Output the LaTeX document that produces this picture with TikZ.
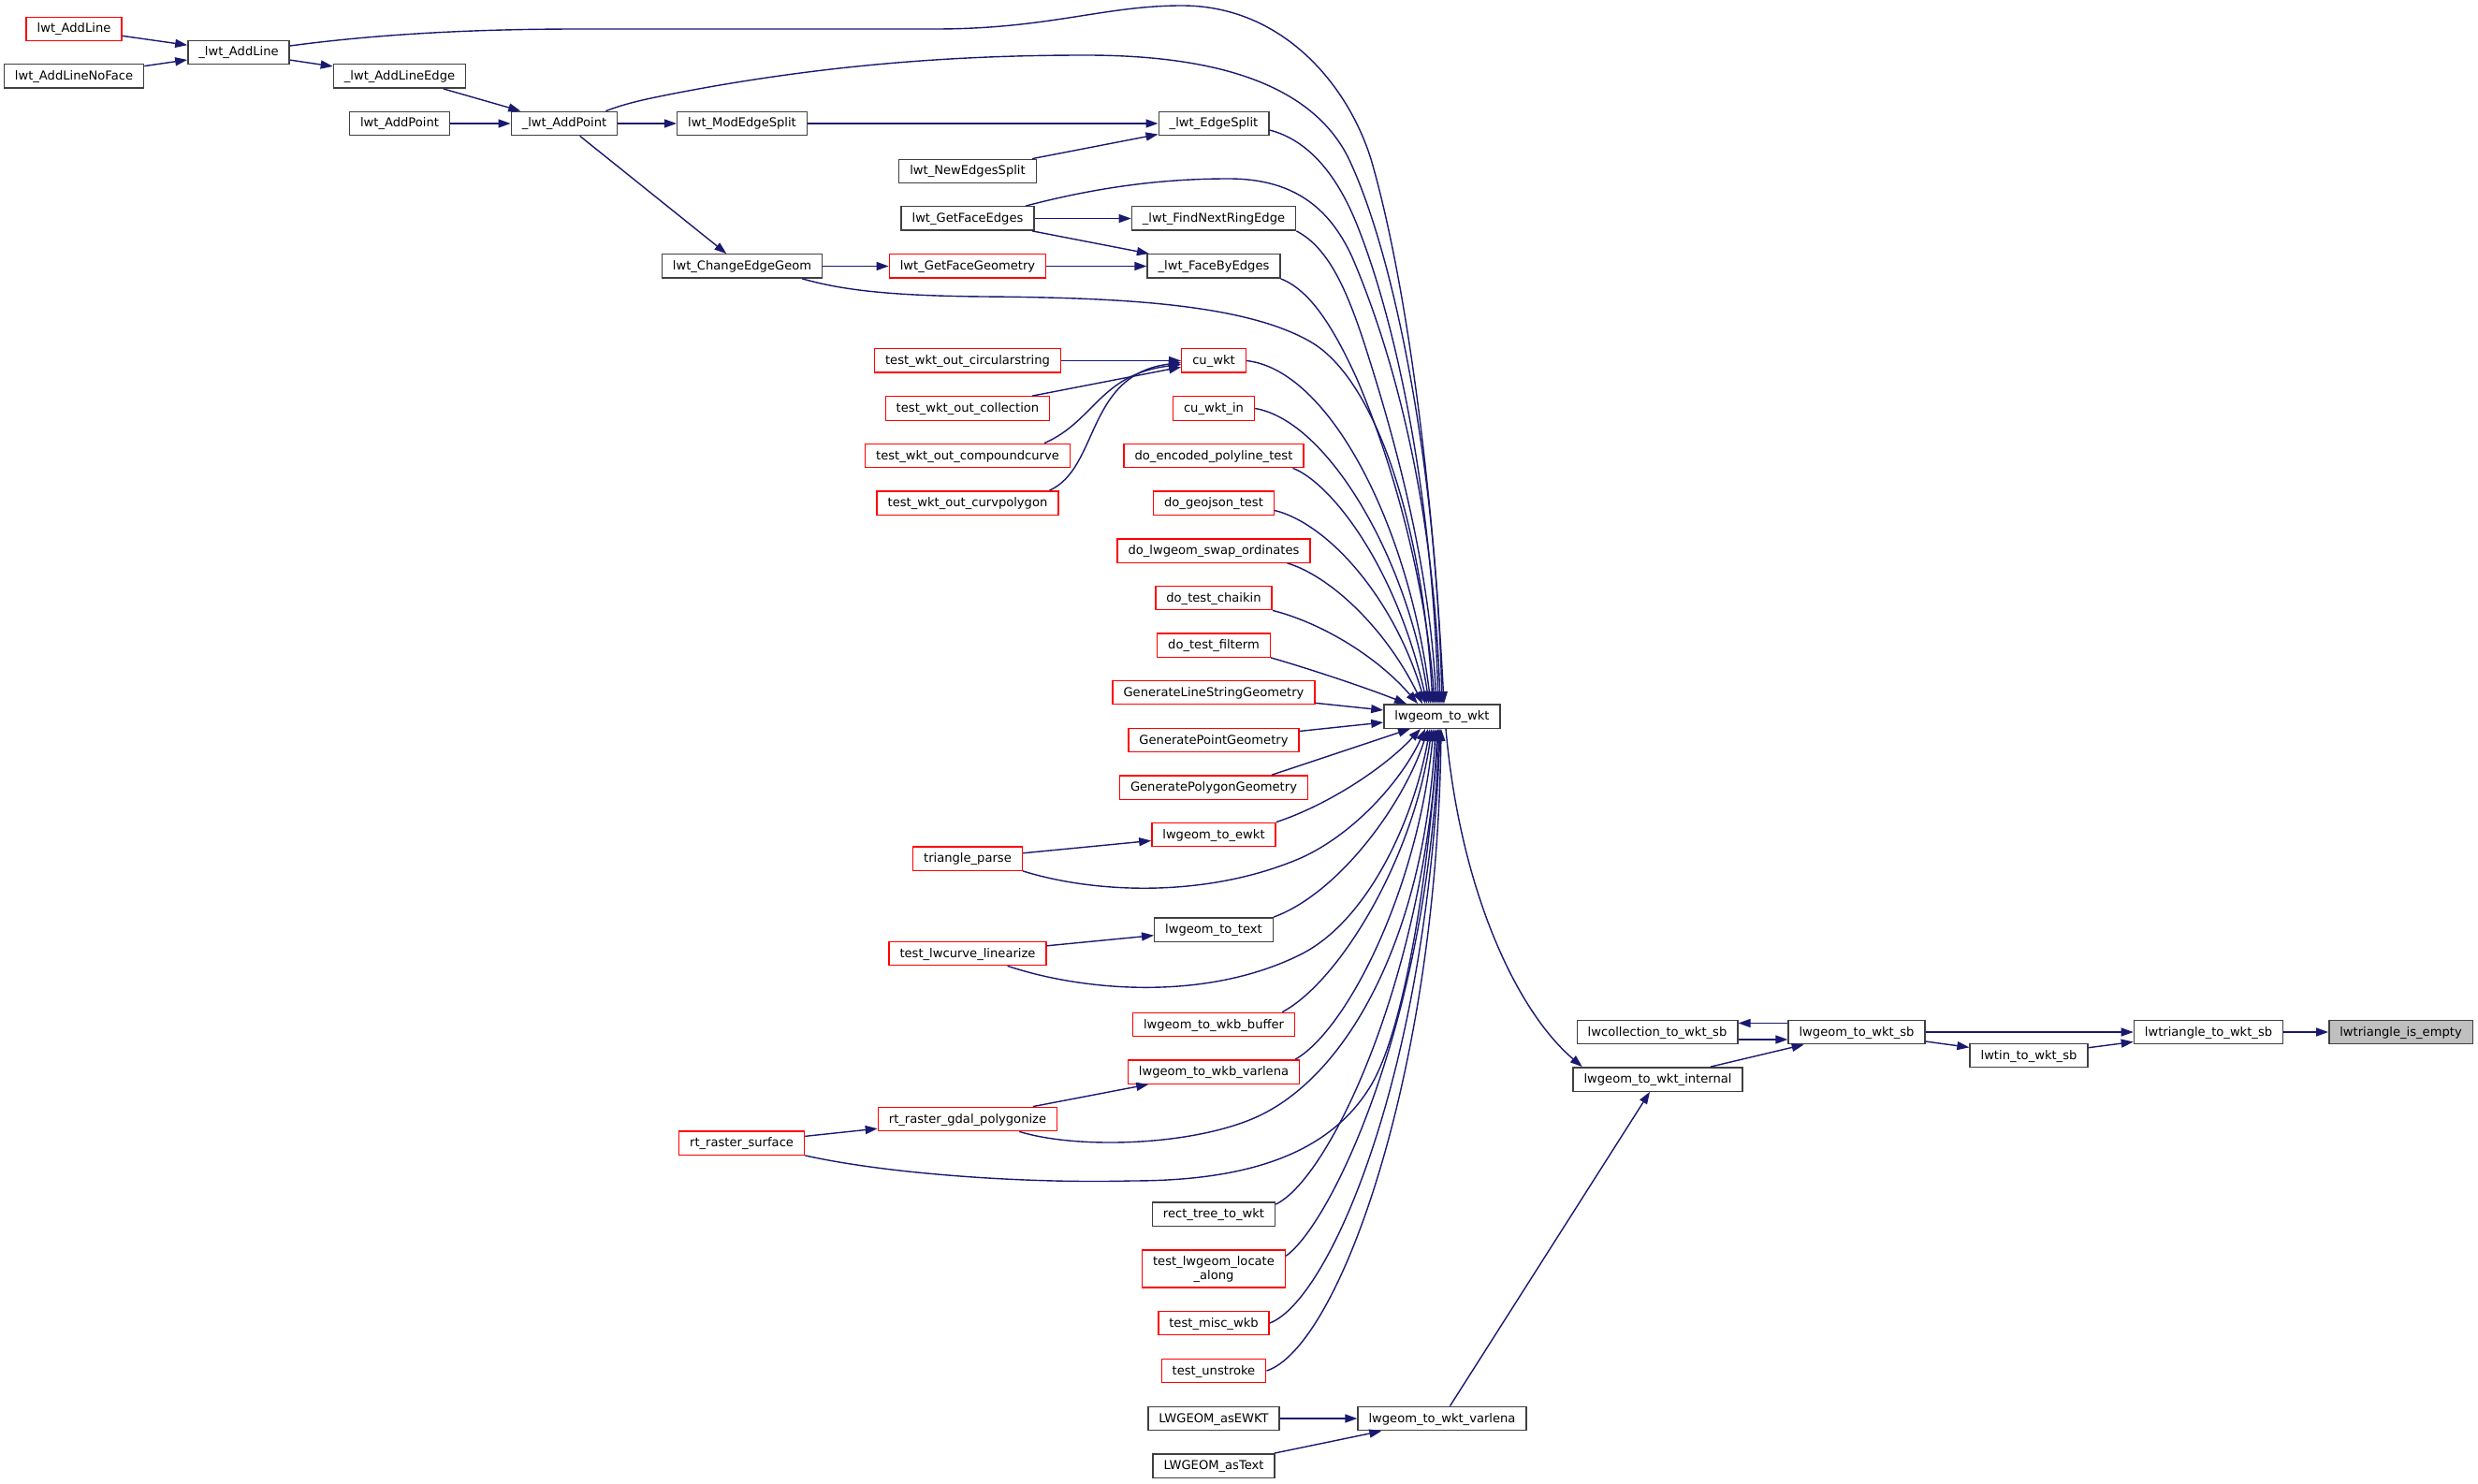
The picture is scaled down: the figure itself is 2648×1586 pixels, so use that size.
\documentclass[tikz,border=0pt]{standalone}
\usepackage{fontspec}
\setmainfont{DejaVu Sans}
\usetikzlibrary{arrows.meta}
\definecolor{edgec}{RGB}{25,25,112}
\definecolor{redb}{RGB}{255,0,0}
\definecolor{blkb}{RGB}{64,64,64}
\definecolor{grayf}{RGB}{191,191,191}
\begin{document}
\begin{tikzpicture}[x=1pt,y=-1pt,
  bnode/.style={draw=blkb, line width=1.4pt, fill=white, font=\fontsize{13.1pt}{15pt}\selectfont,
    minimum height=25.4pt, inner xsep=11.5pt, inner ysep=5.5pt, text height=11pt, text depth=3pt},
  rnode/.style={bnode, draw=redb},
  gnode/.style={bnode, fill=grayf},
  edg/.style={draw=edgec, line width=1.4pt, -{Triangle[length=13pt,width=9pt]}}]
\useasboundingbox (0,0) rectangle (2648,1586);

% nodes
\node[rnode] (n_lwtaddline) at (79,31) {lwt\_AddLine};
\node[bnode] (n_uaddline) at (255,56) {\_lwt\_AddLine};
\node[bnode] (n_noface) at (79,81.5) {lwt\_AddLineNoFace};
\node[bnode] (n_addlineedge) at (427,81.5) {\_lwt\_AddLineEdge};
\node[bnode] (n_lwtaddpoint) at (427,132) {lwt\_AddPoint};
\node[bnode] (n_uaddpoint) at (603,132) {\_lwt\_AddPoint};
\node[bnode] (n_modedge) at (793,132) {lwt\_ModEdgeSplit};
\node[bnode] (n_edgesplit) at (1297,132) {\_lwt\_EdgeSplit};
\node[bnode] (n_newedges) at (1034,183) {lwt\_NewEdgesSplit};
\node[bnode] (n_getfaceedges) at (1034,233.5) {lwt\_GetFaceEdges};
\node[bnode] (n_findnext) at (1297,233.5) {\_lwt\_FindNextRingEdge};
\node[bnode] (n_changeedge) at (793,284.5) {lwt\_ChangeEdgeGeom};
\node[rnode] (n_getfacegeom) at (1034,284.5) {lwt\_GetFaceGeometry};
\node[bnode] (n_facebyedges) at (1297,284.5) {\_lwt\_FaceByEdges};
\node[rnode] (n_circ) at (1034,385.5) {test\_wkt\_out\_circularstring};
\node[rnode] (n_cuwkt) at (1297,385.5) {cu\_wkt};
\node[rnode] (n_coll) at (1034,436.5) {test\_wkt\_out\_collection};
\node[rnode] (n_cuwktin) at (1297,436.5) {cu\_wkt\_in};
\node[rnode] (n_compound) at (1034,487) {test\_wkt\_out\_compoundcurve};
\node[rnode] (n_encoded) at (1297,487) {do\_encoded\_polyline\_test};
\node[rnode] (n_curvpoly) at (1034,537.5) {test\_wkt\_out\_curvpolygon};
\node[rnode] (n_geojson) at (1297,537.5) {do\_geojson\_test};
\node[rnode] (n_swap) at (1297,588.5) {do\_lwgeom\_swap\_ordinates};
\node[rnode] (n_chaikin) at (1297,639) {do\_test\_chaikin};
\node[rnode] (n_filterm) at (1297,689.5) {do\_test\_filterm};
\node[rnode] (n_gls) at (1297,740) {GenerateLineStringGeometry};
\node[bnode] (n_wkt) at (1541,765.5) {lwgeom\_to\_wkt};
\node[rnode] (n_gpt) at (1297,791) {GeneratePointGeometry};
\node[rnode] (n_gpoly) at (1297,841.5) {GeneratePolygonGeometry};
\node[rnode] (n_ewkt) at (1297,892) {lwgeom\_to\_ewkt};
\node[rnode] (n_triparse) at (1034,917.5) {triangle\_parse};
\node[bnode] (n_text) at (1297,993.5) {lwgeom\_to\_text};
\node[rnode] (n_curvelin) at (1034,1019) {test\_lwcurve\_linearize};
\node[rnode] (n_wkbbuf) at (1297,1095) {lwgeom\_to\_wkb\_buffer};
\node[rnode] (n_wkbvar) at (1297,1145.5) {lwgeom\_to\_wkb\_varlena};
\node[rnode] (n_gdal) at (1034,1196) {rt\_raster\_gdal\_polygonize};
\node[rnode] (n_surface) at (792.6,1221.5) {rt\_raster\_surface};
\node[bnode] (n_recttree) at (1297,1297.5) {rect\_tree\_to\_wkt};
\node[rnode, align=center, text height=26pt, text depth=3pt] (n_locate) at (1297,1356) {test\_lwgeom\_locate\\\_along};
\node[rnode] (n_miscwkb) at (1297,1414) {test\_misc\_wkb};
\node[rnode] (n_unstroke) at (1297,1465) {test\_unstroke};
\node[bnode] (n_asewkt) at (1297,1516) {LWGEOM\_asEWKT};
\node[bnode] (n_wktvarlena) at (1541,1516) {lwgeom\_to\_wkt\_varlena};
\node[bnode] (n_astext) at (1297,1566.5) {LWGEOM\_asText};
\node[bnode] (n_coll_sb) at (1771,1103) {lwcollection\_to\_wkt\_sb};
\node[bnode] (n_wkt_sb) at (1984,1103) {lwgeom\_to\_wkt\_sb};
\node[bnode] (n_internal) at (1771.5,1153.5) {lwgeom\_to\_wkt\_internal};
\node[bnode] (n_lwtin) at (2168,1128) {lwtin\_to\_wkt\_sb};
\node[bnode] (n_tri_sb) at (2360,1103) {lwtriangle\_to\_wkt\_sb};
\node[gnode] (n_empty) at (2565.5,1103) {lwtriangle\_is\_empty};

% straight edges
\draw[edg] (n_lwtaddline) -- (n_uaddline);
\draw[edg] (n_noface) -- (n_uaddline);
\draw[edg] (n_uaddline) -- (n_addlineedge);
\draw[edg] (n_addlineedge) -- (n_uaddpoint);
\draw[edg] (n_lwtaddpoint) -- (n_uaddpoint);
\draw[edg] (n_uaddpoint) -- (n_modedge);
\draw[edg] (n_uaddpoint) -- (n_changeedge);
\draw[edg] (n_modedge) -- (n_edgesplit);
\draw[edg] (n_newedges) -- (n_edgesplit);
\draw[edg] (n_getfaceedges) -- (n_findnext);
\draw[edg] (n_getfaceedges) -- (n_facebyedges);
\draw[edg] (n_changeedge) -- (n_getfacegeom);
\draw[edg] (n_getfacegeom) -- (n_facebyedges);
\draw[edg] (n_circ) -- (n_cuwkt);
\draw[edg] (n_coll) -- (n_cuwkt);
\draw[edg] ([xshift=-28pt]n_compound.north east) .. controls (1170,450) and (1175,400) .. ([yshift=-4pt]n_cuwkt.west);
\draw[edg] ([xshift=-10pt]n_curvpoly.north east) .. controls (1175,500) and (1160,400) .. ([yshift=-2pt]n_cuwkt.west);
\draw[edg] (n_triparse) -- (n_ewkt);
\draw[edg] (n_curvelin) -- (n_text);
\draw[edg] (n_gdal) -- (n_wkbvar);
\draw[edg] (n_surface) -- (n_gdal);
\draw[edg] (n_asewkt) -- (n_wktvarlena);
\draw[edg] (n_astext) -- (n_wktvarlena);
\draw[edg] (n_wktvarlena) -- (n_internal);
\draw[edg] (n_internal) -- (n_wkt_sb);
\draw[edg] ([yshift=9.5pt]n_wkt_sb.west) -- ([yshift=9.5pt]n_coll_sb.east);
\draw[edg] ([yshift=-8pt]n_coll_sb.east) -- ([yshift=-8pt]n_wkt_sb.west);
\draw[edg] (n_wkt_sb) -- (n_tri_sb);
\draw[edg] (n_wkt_sb) -- (n_lwtin);
\draw[edg] (n_lwtin) -- (n_tri_sb);
\draw[edg] (n_tri_sb) -- (n_empty);
\draw[edg] (n_gls) -- (n_wkt);
\draw[edg] (n_gpt) -- (n_wkt);
\draw[edg] ([xshift=-39pt]n_gpoly.north east) -- ([xshift=-34pt]n_wkt.south);

% curves into lwgeom_to_wkt (top)
\draw[edg] ([yshift=7pt]n_uaddline.east) .. controls (400,37) and (500,31) .. (620,31) -- (1000,31) .. controls (1120,31) and (1180,6) .. (1263,6) .. controls (1370,6) and (1440,90) .. (1465,170) .. controls (1500,290) and (1530,500) .. ([xshift=2pt]n_wkt.north);
\draw[edg] ([xshift=-13pt]n_uaddpoint.north east) .. controls (670,110) and (690,106) .. (720,100) .. controls (900,65) and (1050,59) .. (1160,59) .. controls (1300,59) and (1400,90) .. (1440,167) .. controls (1490,270) and (1535,500) .. (n_wkt.north);
\draw[edg] ([xshift=-9.5pt]n_getfaceedges.north east) .. controls (1180,198) and (1250,191) .. (1313,191) .. controls (1380,191) and (1420,220) .. (1445,275) .. controls (1490,380) and (1532,540) .. ([xshift=-2pt]n_wkt.north);
\draw[edg] ([yshift=-7pt]n_edgesplit.east) .. controls (1400,150) and (1430,190) .. (1450,240) .. controls (1490,340) and (1530,520) .. ([xshift=-4pt]n_wkt.north);
\draw[edg] (n_findnext.south east) .. controls (1420,265) and (1440,310) .. (1462,380) .. controls (1500,500) and (1528,620) .. ([xshift=-6pt]n_wkt.north);
\draw[edg] (n_facebyedges.south east) .. controls (1400,310) and (1425,350) .. (1450,405) .. controls (1495,510) and (1525,640) .. ([xshift=-8pt]n_wkt.north);
\draw[edg] ([xshift=-22pt]n_changeedge.south east) .. controls (900,310) and (950,316) .. (1050,317) .. controls (1200,318) and (1330,325) .. (1400,365) .. controls (1470,405) and (1520,560) .. ([xshift=-10pt]n_wkt.north);
\draw[edg] (n_cuwkt.east) .. controls (1420,395) and (1505,560) .. ([xshift=-12pt]n_wkt.north);
\draw[edg] (n_cuwktin.east) .. controls (1420,450) and (1505,600) .. ([xshift=-14pt]n_wkt.north);
\draw[edg] ([xshift=-12pt]n_encoded.south east) .. controls (1420,515) and (1490,600) .. ([xshift=-16pt]n_wkt.north);
\draw[edg] ([yshift=-8pt]n_geojson.east) .. controls (1420,560) and (1490,640) .. ([xshift=-18pt]n_wkt.north);
\draw[edg] ([xshift=-25pt]n_swap.south east) .. controls (1420,615) and (1480,670) .. ([xshift=-21pt]n_wkt.north);
\draw[edg] (n_chaikin.south east) .. controls (1410,665) and (1470,700) .. ([xshift=-26pt]n_wkt.north);
\draw[edg] (n_filterm.south east) .. controls (1400,715) and (1460,735) .. ([xshift=-38pt]n_wkt.north);

% curves into lwgeom_to_wkt (bottom)
\draw[edg] (n_ewkt.north east) .. controls (1420,860) and (1480,820) .. ([xshift=-23pt]n_wkt.south);
\draw[edg] (n_triparse.south east) .. controls (1170,955) and (1290,960) .. (1390,917) .. controls (1450,890) and (1500,830) .. ([xshift=-18pt]n_wkt.south);
\draw[edg] (n_text.north east) .. controls (1430,955) and (1500,860) .. ([xshift=-15pt]n_wkt.south);
\draw[edg] ([xshift=-42pt]n_curvelin.south east) .. controls (1160,1060) and (1290,1070) .. (1390,1020) .. controls (1460,985) and (1510,880) .. ([xshift=-13pt]n_wkt.south);
\draw[edg] ([xshift=-14pt]n_wkbbuf.north east) .. controls (1430,1050) and (1510,920) .. ([xshift=-11pt]n_wkt.south);
\draw[edg] ([xshift=-5pt]n_wkbvar.north east) .. controls (1440,1100) and (1515,950) .. ([xshift=-9pt]n_wkt.south);
\draw[edg] ([xshift=-41pt]n_gdal.south east) .. controls (1150,1228) and (1270,1225) .. (1340,1195) .. controls (1440,1152) and (1522,1000) .. ([xshift=-7pt]n_wkt.south);
\draw[edg] (n_surface.south east) .. controls (950,1255) and (1100,1265) .. (1209,1262) .. controls (1330,1262) and (1420,1235) .. (1465,1160) .. controls (1505,1093) and (1530,900) .. ([xshift=-5pt]n_wkt.south);
\draw[edg] ([yshift=-3pt]n_recttree.north east) .. controls (1420,1260) and (1520,1050) .. ([xshift=-4pt]n_wkt.south);
\draw[edg] ([yshift=-7pt]n_locate.north east) .. controls (1420,1310) and (1525,1100) .. ([xshift=-3pt]n_wkt.south);
\draw[edg] (n_miscwkb.east) .. controls (1420,1390) and (1525,1150) .. ([xshift=-2pt]n_wkt.south);
\draw[edg] (n_unstroke.east) .. controls (1430,1440) and (1535,1150) .. ([xshift=-1pt]n_wkt.south);

% lwgeom_to_wkt -> internal
\draw[edg] ([xshift=4pt]n_wkt.south) .. controls (1560,950) and (1620,1080) .. ([xshift=10.5pt]n_internal.north west);
\end{tikzpicture}
\end{document}
